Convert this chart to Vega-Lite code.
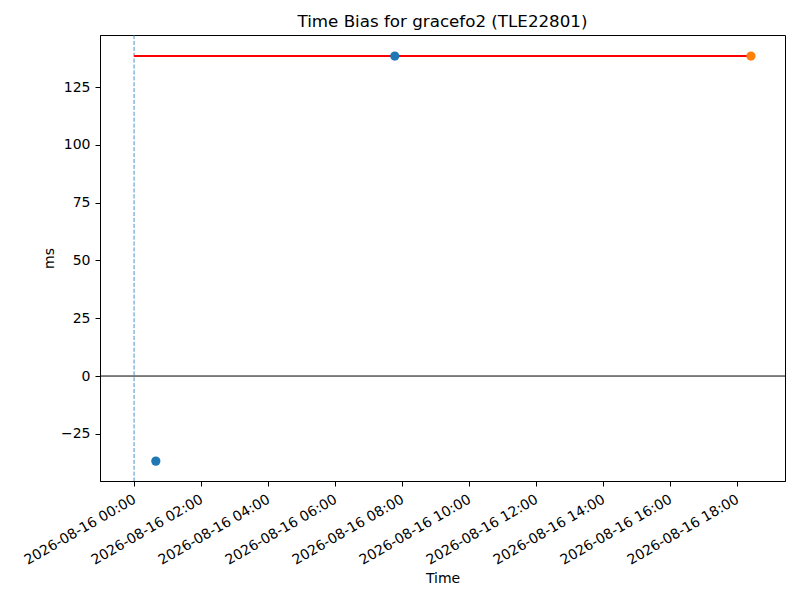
{
  "$schema": "https://vega.github.io/schema/vega-lite/v6.json",
  "autosize": {"type": "none"},
  "width": 685,
  "height": 446,
  "padding": {"left": 100, "top": 35, "right": 15, "bottom": 119},
  "background": "white",
  "title": {
    "text": "Time Bias for gracefo2 (TLE22801)",
    "font": "DejaVu Sans",
    "fontSize": 16.7,
    "fontWeight": "normal",
    "color": "black",
    "offset": 4
  },
  "config": {
    "view": {"stroke": "black", "strokeWidth": 1},
    "axis": {
      "grid": false,
      "domainColor": "black",
      "tickColor": "black",
      "tickSize": 5,
      "labelFont": "DejaVu Sans",
      "labelFontSize": 14,
      "labelColor": "black",
      "labelPadding": 5,
      "titleFont": "DejaVu Sans",
      "titleFontSize": 14,
      "titleFontWeight": "normal",
      "titleColor": "black"
    }
  },
  "datasets": {
    "points": [
      {"time": "2026-08-16T00:39:00Z", "bias": -36.8, "series": "a"},
      {"time": "2026-08-16T07:47:00Z", "bias": 138.4, "series": "a"},
      {"time": "2026-08-16T18:25:00Z", "bias": 138.4, "series": "b"}
    ],
    "fit": [
      {"start": "2026-08-16T00:00:00Z", "end": "2026-08-16T18:25:00Z", "bias": 138.4}
    ],
    "marker": [{"time": "2026-08-16T00:00:00Z"}],
    "zero": [{"bias": 0}]
  },
  "layer": [
    {
      "data": {"name": "zero"},
      "mark": {"type": "rule", "color": "black", "strokeWidth": 1, "opacity": 1},
      "encoding": {
        "y": {"field": "bias", "type": "quantitative"}
      }
    },
    {
      "data": {"name": "marker"},
      "mark": {"type": "rule", "color": "#1f77b4", "strokeWidth": 0.8, "opacity": 1, "strokeDash": [4.1, 1.8]},
      "encoding": {
        "x": {"field": "time", "type": "temporal"}
      }
    },
    {
      "data": {"name": "fit"},
      "mark": {"type": "rule", "color": "red", "strokeWidth": 2, "opacity": 1},
      "encoding": {
        "x": {"field": "start", "type": "temporal"},
        "x2": {"field": "end"},
        "y": {"field": "bias", "type": "quantitative"}
      }
    },
    {
      "data": {"name": "points"},
      "mark": {"type": "circle", "opacity": 1},
      "encoding": {
        "x": {
          "field": "time",
          "type": "temporal",
          "title": "Time",
          "scale": {
            "type": "utc",
            "domain": [1786834740000, 1786908360000],
            "nice": false
          },
          "axis": {
            "format": "%Y-%m-%d %H:%M",
            "values": [1786838400000, 1786845600000, 1786852800000, 1786860000000, 1786867200000, 1786874400000, 1786881600000, 1786888800000, 1786896000000, 1786903200000],
            "labelAngle": -30,
            "labelAlign": "right",
            "labelBaseline": "top",
            "labelOverlap": false,
            "labelOffset": -3,
            "labelPadding": 6,
            "titlePadding": 4
          }
        },
        "y": {
          "field": "bias",
          "type": "quantitative",
          "title": "ms",
          "scale": {"domain": [-45.4, 147.5], "nice": false, "zero": false},
          "axis": {"values": [-25, 0, 25, 50, 75, 100, 125], "titlePadding": 4}
        },
        "color": {
          "field": "series",
          "type": "nominal",
          "scale": {"domain": ["a", "b"], "range": ["#1f77b4", "#ff7f0e"]},
          "legend": null
        },
        "size": {"value": 85}
      }
    }
  ]
}
